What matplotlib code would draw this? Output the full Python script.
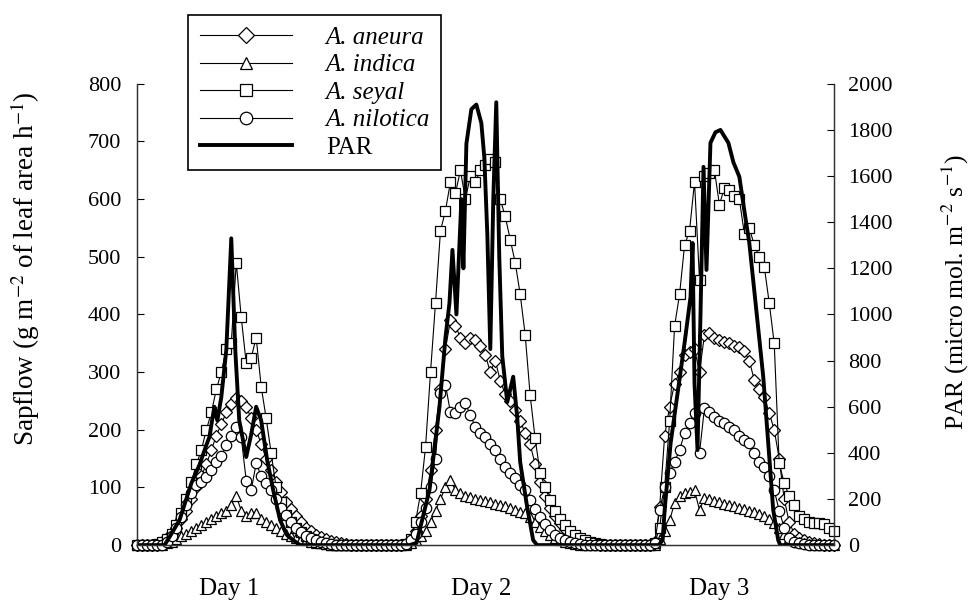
import numpy as np
import matplotlib.pyplot as plt

plt.rcParams['font.family'] = ['Liberation Serif', 'DejaVu Serif']
plt.rcParams['mathtext.fontset'] = 'stix'

# leituras de meia em meia hora (horas desde o inicio)
horas = np.arange(0, 70.5, 0.5)

aneura = [0, 0, 0, 0, 0, 5, 12, 20, 30, 45,
          60, 80, 100, 120, 140, 165, 190, 210, 230, 245,
          255, 250, 240, 220, 200, 175, 150, 130, 110, 92,
          75, 62, 50, 40, 30, 24, 18, 14, 10, 7,
          5, 3, 2, 1, 0, 0, 0, 0, 0, 0,
          0, 0, 0, 0, 2, 8, 25, 50, 80, 130,
          200, 270, 340, 390, 380, 360, 350, 360, 355, 345,
          330, 300, 320, 285, 262, 250, 235, 215, 195, 175,
          140, 110, 85, 65, 50, 38, 28, 20, 14, 10,
          6, 4, 2, 1, 0, 0, 0, 0, 0, 0,
          0, 0, 0, 0, 5, 66, 190, 240, 280, 300,
          330, 335, 340, 300, 365, 368, 360, 356, 352, 350,
          346, 344, 336, 320, 286, 270, 257, 229, 200, 150,
          80, 40, 20, 12, 8, 5, 3, 2, 1, 0,
          0]

indica = [0, 0, 0, 0, 0, 0, 3, 6, 10, 15,
          20, 25, 30, 35, 40, 45, 50, 55, 60, 70,
          85, 60, 50, 55, 55, 45, 40, 35, 30, 25,
          20, 16, 12, 10, 8, 6, 4, 3, 2, 1,
          1, 0, 0, 0, 0, 0, 0, 0, 0, 0,
          0, 0, 0, 0, 1, 3, 8, 15, 25, 40,
          60, 80, 100, 113, 95, 90, 86, 83, 80, 78,
          76, 74, 72, 70, 67, 64, 61, 58, 56, 48,
          40, 32, 25, 18, 12, 8, 5, 3, 2, 1,
          0, 0, 0, 0, 0, 0, 0, 0, 0, 0,
          0, 0, 0, 0, 1, 10, 25, 43, 73, 85,
          90, 92, 95, 61, 82, 80, 77, 75, 72, 70,
          67, 64, 62, 60, 57, 54, 50, 45, 38, 30,
          20, 12, 8, 5, 3, 2, 1, 0, 0, 0,
          0]

seyal = [0, 0, 0, 0, 2, 5, 10, 20, 35, 55,
         80, 110, 140, 165, 200, 230, 270, 300, 340, 350,
         490, 395, 315, 325, 360, 275, 220, 160, 100, 75,
         52, 40, 30, 22, 15, 10, 6, 4, 2, 1,
         0, 0, 0, 0, 0, 0, 0, 0, 0, 0,
         0, 0, 0, 0, 2, 10, 40, 90, 170, 300,
         420, 545, 580, 630, 610, 650, 600, 640, 630, 650,
         660, 670, 665, 600, 570, 530, 490, 435, 365, 260,
         185, 125, 100, 78, 60, 45, 35, 25, 18, 12,
         8, 5, 3, 2, 1, 0, 0, 0, 0, 0,
         0, 0, 0, 0, 3, 30, 100, 215, 380, 435,
         520, 545, 630, 460, 640, 645, 650, 590, 620, 615,
         605, 600, 540, 550, 520, 500, 483, 420, 350, 142,
         108, 85, 70, 50, 45, 40, 38, 38, 36, 30,
         25]

nilotica = [0, 0, 0, 0, 0, 0, 5, 15, 30, 48,
            70, 90, 105, 110, 118, 130, 145, 155, 173, 190,
            205, 187, 112, 95, 142, 120, 107, 95, 80, 65,
            52, 40, 30, 22, 16, 12, 8, 5, 3, 2,
            1, 0, 0, 0, 0, 0, 0, 0, 0, 0,
            0, 0, 0, 0, 2, 8, 20, 40, 65, 100,
            150, 263, 278, 230, 229, 240, 246, 225, 205, 195,
            187, 175, 165, 150, 135, 125, 116, 105, 95, 78,
            62, 48, 36, 26, 18, 12, 8, 5, 3, 2,
            1, 0, 0, 0, 0, 0, 0, 0, 0, 0,
            0, 0, 0, 0, 3, 61, 100, 125, 145, 165,
            194, 212, 229, 160, 238, 230, 222, 215, 212, 205,
            200, 190, 182, 177, 160, 145, 135, 120, 95, 60,
            30, 12, 6, 3, 2, 1, 0, 0, 0, 0,
            0]

# PAR (horas irregulares)
par_horas = [0, 2.8, 3.3, 4.3, 5.5, 6.3, 7.0, 7.3, 7.8, 8.1, 8.5, 9.0, 9.5,
             9.9, 10.3, 11.0, 11.5, 12.0, 12.5, 13.1, 13.7, 14.4, 15.1, 15.7, 16.4,
             27.4, 28.1, 29.4, 30.4, 31.0, 31.4, 31.7, 32.1, 32.4, 32.6, 32.8,
             33.1, 33.6, 34.1, 34.6, 34.9, 35.2, 35.5, 35.8, 36.1, 36.4, 36.7,
             37.2, 37.8, 38.2, 38.5, 39.2, 39.8, 40.2,
             52.4, 52.8, 53.0, 53.6, 54.3, 55.0, 55.6, 55.8, 56.0, 56.3, 56.6,
             56.9, 57.2, 57.6, 58.1, 58.6, 59.4, 59.9, 60.5, 61.0, 61.5, 62.2,
             62.9, 63.4, 63.9, 64.4, 64.6, 70]
par = [0, 0, 35, 108, 269, 347, 434, 468, 600, 540, 642, 846, 1330,
       846, 540, 382, 480, 600, 540, 369, 240, 108, 43, 22, 0,
       0, 10, 240, 600, 900, 1050, 1280, 1000, 1300, 1500, 1200,
       1740, 1890, 1910, 1830, 1680, 1350, 850, 1500, 1920, 1250, 820,
       620, 730, 555, 360, 165, 22, 0,
       0, 22, 152, 442, 659, 876, 1076, 1310, 700, 412, 1000,
       1640, 1193, 1744, 1790, 1800, 1744, 1660, 1597, 1450, 1310, 1020,
       729, 442, 152, 22, 0, 0]

dias = ['Day 1', 'Day 2', 'Day 3']
pos_dias = [9.3, 34.6, 58.5]

fig = plt.figure(figsize=(9.76, 6.03), dpi=100)
ax = fig.add_axes([0.140, 0.096, 0.7145, 0.765])
ax2 = ax.twinx()

estilo = dict(color='black', lw=0.8, mfc='white', mec='black', mew=0.9, clip_on=False)
l1, = ax.plot(horas, aneura, marker='D', ms=6.5, label='A. aneura', **estilo)
l2, = ax.plot(horas, indica, marker='^', ms=7.5, label='A. indica', **estilo)
l3, = ax.plot(horas, seyal, marker='s', ms=7.5, label='A. seyal', **estilo)
l4, = ax.plot(horas, nilotica, marker='o', ms=7.5, label='A. nilotica', **estilo)
l5, = ax2.plot(par_horas, par, color='black', lw=2.8, label='PAR')

ax.set_xlim(0, 70)
ax.set_ylim(0, 800)
ax2.set_ylim(0, 2000)
ax.set_yticks(range(0, 801, 100))
ax2.set_yticks(range(0, 2001, 200))
ax.set_xticks(pos_dias)
ax.set_xticklabels(dias)
ax.tick_params(axis='x', length=0, pad=24, labelsize=18)
ax.tick_params(axis='y', direction='in', length=5, pad=11, labelsize=16)
ax2.tick_params(axis='y', direction='in', length=5, pad=10, labelsize=16)

for a in (ax, ax2):
    a.spines['top'].set_visible(False)
    for s in ('left', 'right', 'bottom'):
        a.spines[s].set_linewidth(0.9)
        a.spines[s].set_color('#333333')

ax.set_ylabel('Sapflow (g m$^{-2}$ of leaf area h$^{-1}$)', fontsize=19.5)
ax.yaxis.set_label_coords(-0.136, 0.60)
ax2.set_ylabel('PAR (micro mol. m$^{-2}$ s$^{-1}$)', fontsize=18.5)
ax2.yaxis.set_label_coords(1.152, 0.55)

leg = fig.legend(handles=[l1, l2, l3, l4, l5], loc='upper left',
                 bbox_to_anchor=(0.193, 0.975), borderaxespad=0,
                 frameon=True, fancybox=False,
                 edgecolor='black', framealpha=1, fontsize=18,
                 handlelength=3.7, handletextpad=1.35, labelspacing=0.2,
                 borderpad=0.45, numpoints=1, markerscale=1.2)
leg.get_frame().set_linewidth(1.2)
for t in leg.get_texts()[:4]:
    t.set_fontstyle('italic')

fig.savefig('out.png', dpi=100)
